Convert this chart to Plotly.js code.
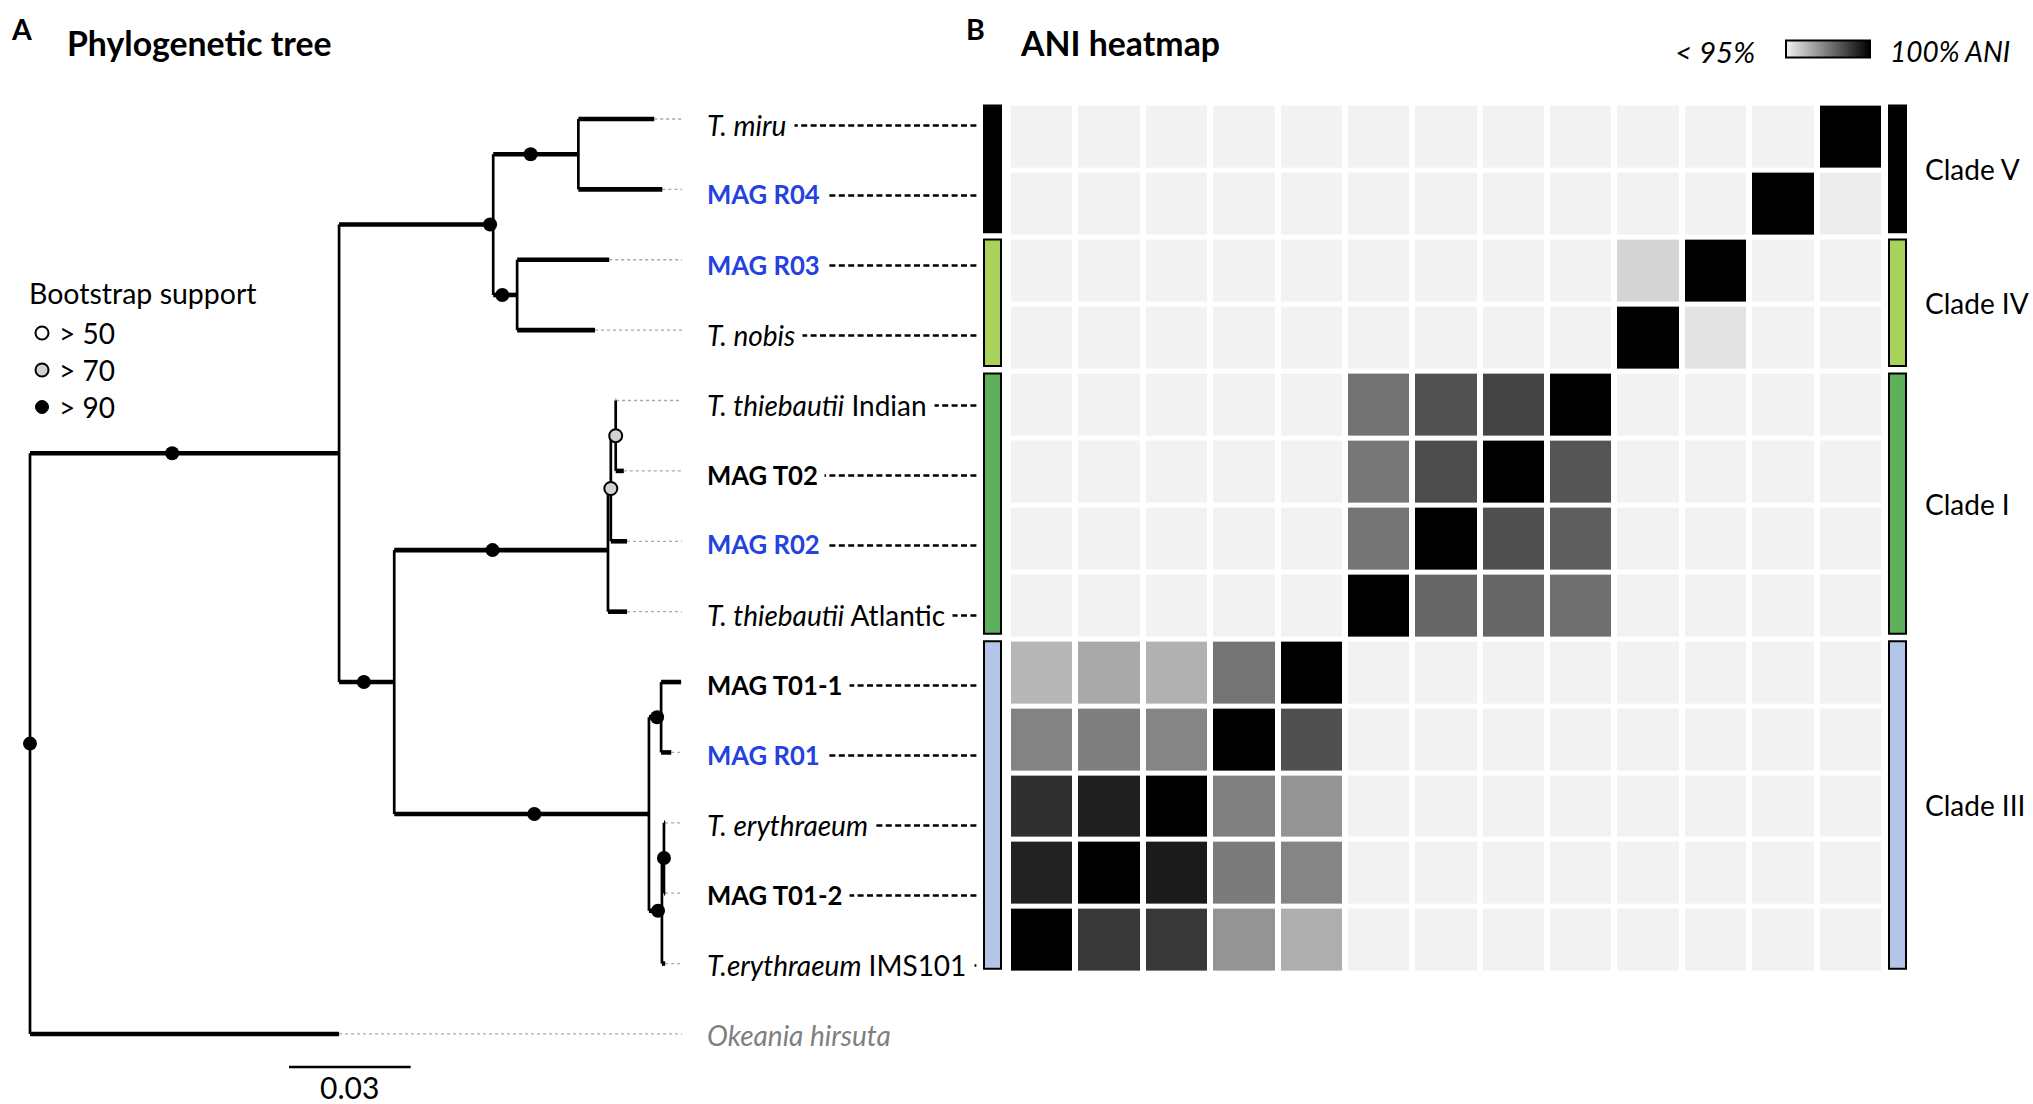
<!DOCTYPE html>
<html><head><meta charset="utf-8">
<script src="https://cdn.plot.ly/plotly-3.0.1.min.js"></script>
<style>html,body{margin:0;padding:0;background:#fff}</style>
</head><body><div id="chart" style="width:2033px;height:1104px"></div>
<script>
// ================= DATA =================
const leafNames = ['T. miru','MAG R04','MAG R03','T. nobis','T. thiebautii Indian','MAG T02','MAG R02',
  'T. thiebautii Atlantic','MAG T01-1','MAG R01','T. erythraeum','MAG T01-2','T.erythraeum IMS101','Okeania hirsuta'];
const leafLabels = ['<i>T. miru</i>','<b>MAG R04</b>','<b>MAG R03</b>','<i>T. nobis</i>','<i>T. thiebautii</i> Indian',
  '<b>MAG T02</b>','<b>MAG R02</b>','<i>T. thiebautii</i> Atlantic','<b>MAG T01-1</b>','<b>MAG R01</b>',
  '<i>T. erythraeum</i>','<b>MAG T01-2</b>','<i>T.erythraeum</i> IMS101','<i>Okeania hirsuta</i>'];
const leafKinds = ['ref','magR','magR','ref','ref','magT','magR','ref','magT','magR','ref','magT','ref','outgroup'];

// tree: node, parent, branch length (substitutions/site), bootstrap class
const nodeIds = ['root','Okeania hirsuta','ingroup','V+IV','cladeV','T. miru','MAG R04','cladeIV','MAG R03','T. nobis',
  'I+III','cladeI','nodeB','nodeA','T. thiebautii Indian','MAG T02','MAG R02','T. thiebautii Atlantic',
  'cladeIII','nodeT01R01','MAG T01-1','MAG R01','nodeL','nodeM','T. erythraeum','MAG T01-2','T.erythraeum IMS101'];
const nodeParents = [null,'root','root','ingroup','V+IV','cladeV','cladeV','V+IV','cladeIV','cladeIV',
  'ingroup','I+III','cladeI','nodeB','nodeA','nodeA','nodeB','cladeI',
  'I+III','cladeIII','nodeT01R01','nodeT01R01','cladeIII','nodeL','nodeM','nodeM','nodeL'];
const branchLengths = [0,0.0762,0.0762,0.0380,0.0210,0.0187,0.0207,0.0059,0.0227,0.0192,
  0.0136,0.0527,0.0007,0.0012,0.0001,0.0020,0.0040,0.0047,
  0.0628,0.0030,0.0049,0.0025,0.0032,0.0005,0.0003,0.0003,0.0008];
const bootstrap = [90,null,90,90,90,null,null,90,null,null,
  90,90,70,70,null,null,null,null,
  90,90,null,null,90,90,null,null,null];

// ANI heatmap (rows top->bottom, columns left->right), % ANI; 95 = "< 95%"
const heatRows = leafNames.slice(0,13);
const heatCols = heatRows.slice().reverse();
const aniMatrix = [
  [95,95,95,95,95,95,95,95,95,95,95,95,100],
  [95,95,95,95,95,95,95,95,95,95,95,100,95.1],
  [95,95,95,95,95,95,95,95,95,95.6,100,95,95],
  [95,95,95,95,95,95,95,95,95,100,95.3,95,95],
  [95,95,95,95,95,97.65,98.3,98.6,100,95,95,95,95],
  [95,95,95,95,95,97.55,98.4,100,98.25,95,95,95,95],
  [95,95,95,95,95,97.6,100,98.35,98.05,95,95,95,95],
  [95,95,95,95,95,100,97.9,97.9,97.7,95,95,95,95],
  [96.25,96.5,96.35,97.6,100,95,95,95,95,95,95,95,95],
  [97.3,97.4,97.25,100,98.35,95,95,95,95,95,95,95,95],
  [99.0,99.35,100,97.35,96.95,95,95,95,95,95,95,95,95],
  [99.3,100,99.45,97.45,97.25,95,95,95,95,95,95,95,95],
  [100,98.85,98.85,96.95,96.4,95,95,95,95,95,95,95,95]
];
const aniMin = 95, aniMax = 100;

const cladeNames = ['Clade V','Clade IV','Clade I','Clade III'];
const cladeFirstRow = [0,2,4,8];
const cladeLastRow = [1,3,7,12];
const cladeColors = ['#000000','#a8d25a','#5fb05b','#b4c6e8'];

const bootstrapClasses = [50,70,90];
const bootstrapLegendText = ['> 50','> 70','> 90'];
const scaleBarLength = 0.03;
const scaleBarLabel = '0.03';

// ================= STYLE / LAYOUT CONSTANTS =================
const W = 2033, H = 1104;
const PXU = 4056, ROOTPX = 30, TIP0 = 119, TIPSTEP = 70.38;
const LABEL_X = 706, DOT_END_PX = 682, DASH_END = 977;
const LABEL_Y0 = 124.5, LABEL_STEP = 70.0;
const FONT = 'Lato, "Open Sans", sans-serif';
const BLUE = '#2342e0';
const bsFill = {50:'#ffffff',70:'#d2d2d2',90:'#000000'};
const dotFrac = {root:null, ingroup:0.46,'V+IV':0.98,cladeV:0.44,cladeIV:0.38,'I+III':0.45,cladeI:0.46,
  nodeB:1.0,nodeA:1.0,cladeIII:0.55,nodeT01R01:0.67,nodeL:0.7,nodeM:1.0};

const X = px => px / W, Y = py => 1 - py / H;
const px2u = px => (px - ROOTPX) / PXU;
const labelPx = i => LABEL_Y0 + LABEL_STEP * i;

// ================= TREE LAYOUT =================
const idx = {}; nodeIds.forEach((n,i)=>idx[n]=i);
const children = nodeIds.map(()=>[]);
nodeParents.forEach((p,i)=>{ if(p) children[idx[p]].push(i); });
const nx = [], ny = [];
(function setX(i,x){ nx[i]=x; children[i].forEach(c=>setX(c, x+branchLengths[c])); })(0,0);
(function setY(i){
  if(!children[i].length){ ny[i]=leafNames.indexOf(nodeIds[i]); return ny[i]; }
  const ys = children[i].map(setY);
  ny[i] = (Math.min(...ys)+Math.max(...ys))/2; return ny[i];
})(0);

const hx=[],hy=[],vx=[],vy=[],gx=[],gy=[];
nodeIds.forEach((n,i)=>{
  const p = nodeParents[i];
  if(p){ const pi=idx[p]; hx.push(nx[pi],nx[i],null); hy.push(ny[i],ny[i],null); }
  if(children[i].length){
    const ys = children[i].map(c=>ny[c]);
    vx.push(nx[i],nx[i],null); vy.push(Math.min(...ys),Math.max(...ys),null);
  } else {
    gx.push(nx[i], px2u(DOT_END_PX), null); gy.push(ny[i],ny[i],null);
  }
});
const dots = {50:{x:[],y:[]},70:{x:[],y:[]},90:{x:[],y:[]}};
nodeIds.forEach((n,i)=>{
  const b = bootstrap[i]; if(b==null) return;
  let x;
  if(!nodeParents[i]) x = nx[i];
  else { const pi=idx[nodeParents[i]]; x = nx[pi] + dotFrac[n]*(nx[i]-nx[pi]); }
  dots[b].x.push(x); dots[b].y.push(ny[i]);
});

const traces = [
  {type:'scatter',mode:'lines',x:gx,y:gy,line:{color:'#a8a8a8',width:1.3,dash:'dot'},hoverinfo:'skip'},
  {type:'scatter',mode:'lines',x:vx,y:vy,line:{color:'#000',width:2.7},hoverinfo:'skip'},
  {type:'scatter',mode:'lines',x:hx,y:hy,line:{color:'#000',width:4.6},hoverinfo:'skip'}
];
bootstrapClasses.forEach(b=>{
  if(!dots[b].x.length) return;
  traces.push({type:'scatter',mode:'markers',x:dots[b].x,y:dots[b].y,hoverinfo:'skip',
    marker:{size:b===90?14:13,color:bsFill[b],line:{color:'#000',width:b===90?0:2}}});
});
traces.push({
  type:'heatmap', xaxis:'x2', yaxis:'y2',
  z:aniMatrix, x:heatCols.map((c,i)=>i), y:heatRows.map((r,i)=>i),
  zmin:aniMin, zmax:aniMax, xgap:6, ygap:5, hoverinfo:'skip',
  colorscale:[[0,'#f2f2f2'],[1,'#000000']],
  colorbar:{orientation:'h', xref:'container', yref:'container', x:1786/W, xanchor:'left',
    y:1-50/H, yanchor:'middle', len:84, lenmode:'pixels', thickness:17, thicknessmode:'pixels',
    outlinewidth:2, outlinecolor:'#000', showticklabels:false, ticks:'', xpad:0, ypad:0, borderwidth:0}
});

// ================= ANNOTATIONS & SHAPES =================
const ann = [], shapes = [];
const txt = (text,xp,yp,size,opt={}) => ann.push(Object.assign({
  text, x:X(xp), y:Y(yp), xref:'paper', yref:'paper', showarrow:false,
  xanchor:'left', yanchor:'middle', font:{family:FONT,size,color:'#000'}}, opt));

txt('<b>A</b>',9,29,28.5);
txt('<b>Phylogenetic tree</b>',65,43,33.8);
txt('<b>B</b>',964,29,28.5);
txt('<b>ANI heatmap</b>',1018,43,33.8);
txt('<i>< 95%</i>',1757,51,29.5,{xanchor:'right'});
txt('<i>100% ANI</i>',1888,51,28);

// leaf labels with dash leaders
leafNames.forEach((n,i)=>{
  const yp = labelPx(i);
  const kind = leafKinds[i];
  if(kind!=='outgroup'){
    shapes.push({type:'line',xref:'paper',yref:'paper',x0:X(LABEL_X+20),x1:X(DASH_END),y0:Y(yp+1),y1:Y(yp+1),
      line:{color:'#000',width:2.7,dash:'6px,3.4px'}});
  }
  const color = kind==='magR'?BLUE:(kind==='outgroup'?'#7f7f7f':'#000');
  const size = (kind==='magR'||kind==='magT') ? 25.7 : 28;
  txt(leafLabels[i]+(kind==='outgroup'?'':'\u00a0'),LABEL_X,yp,size,{bgcolor:'#fff',borderpad:0,font:{family:FONT,size,color}});
});

// clade bars (aligned to heatmap rows) and labels
cladeNames.forEach((c,k)=>{
  const y0 = cladeFirstRow[k]-0.47, y1 = cladeLastRow[k]+0.42;
  [[984,1001],[1889,1906]].forEach(([a,b])=>{
    shapes.push({type:'rect',xref:'paper',yref:'y2',x0:X(a),x1:X(b),y0,y1,
      fillcolor:cladeColors[k],line:{color:'#000',width:2}});
  });
  ann.push({text:c,xref:'paper',yref:'y2',x:X(1923),y:(y0+y1)/2,showarrow:false,xanchor:'left',yanchor:'middle',
    font:{family:FONT,size:28,color:'#000'}});
});

// bootstrap legend
txt('Bootstrap support',27,293,28.5);
bootstrapClasses.forEach((b,k)=>{
  const cy = 333 + 37*k;
  shapes.push({type:'circle',xref:'paper',yref:'paper',x0:X(35.5),x1:X(48.5),y0:Y(cy-6.5),y1:Y(cy+6.5),
    fillcolor:bsFill[b],line:{color:'#000',width:b===90?1:2}});
  txt(bootstrapLegendText[k],57,cy,28);
});

// scale bar
const sbx0 = px2u(289);
shapes.push({type:'line',xref:'x',yref:'paper',x0:sbx0,x1:sbx0+scaleBarLength,y0:Y(1067),y1:Y(1067),
  line:{color:'#000',width:2.5}});
ann.push({text:scaleBarLabel,xref:'x',yref:'paper',x:sbx0+scaleBarLength/2,y:Y(1087),showarrow:false,
  xanchor:'center',yanchor:'middle',height:30,valign:'middle',font:{family:FONT,size:30,color:'#000'}});

const layout = {
  width:W, height:H, margin:{l:0,r:0,t:0,b:0,autoexpand:false}, showlegend:false,
  paper_bgcolor:'#fff', plot_bgcolor:'rgba(0,0,0,0)',
  xaxis:{domain:[0,1],range:[px2u(0),px2u(W)],visible:false,fixedrange:true},
  yaxis:{domain:[0,1],range:[(H-TIP0)/TIPSTEP,-TIP0/TIPSTEP],visible:false,fixedrange:true},
  xaxis2:{domain:[1008/W,1884/W],range:[-0.5,12.5],visible:false,anchor:'y2',fixedrange:true},
  yaxis2:{domain:[1-974/H,1-103.6/H],range:[12.5,-0.5],visible:false,anchor:'x2',fixedrange:true},
  annotations:ann, shapes:shapes
};
Plotly.newPlot('chart',traces,layout,{staticPlot:true,displayModeBar:false});
</script></body></html>
